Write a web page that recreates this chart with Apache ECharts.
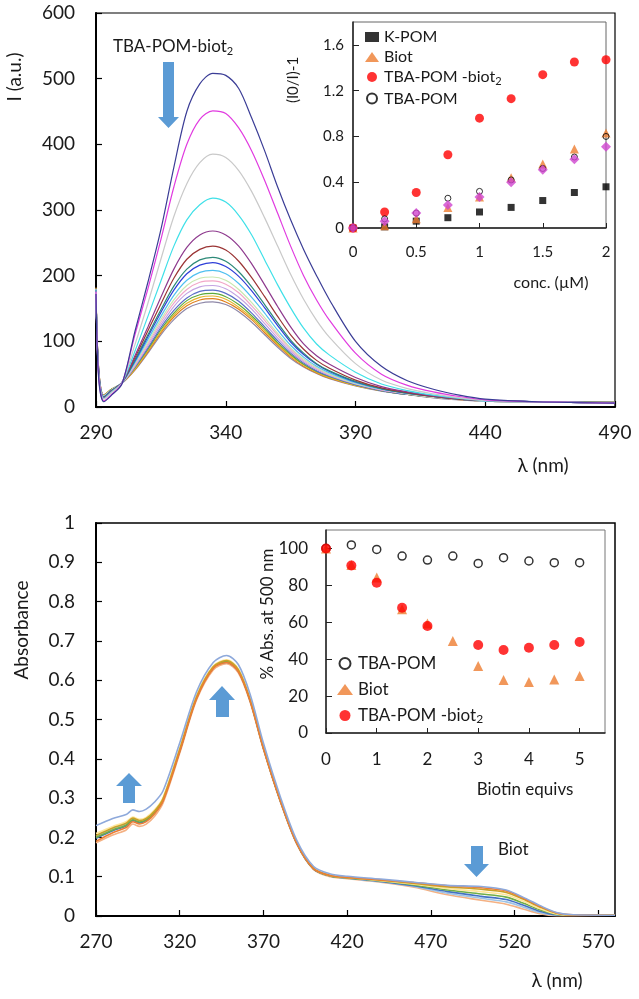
<!DOCTYPE html>
<html>
<head>
<meta charset="utf-8">
<script src="https://cdn.jsdelivr.net/npm/echarts@6/dist/echarts.min.js"></script>
<style>
  html, body { margin: 0; padding: 0; background: #fff; }
  #chart { width: 639px; height: 999px; }
</style>
</head>
<body>
<div id="chart"></div>
<script>
// top panel: fluorescence spectra (nm / a.u.)
const wlF = [290, 291, 293, 296, 300, 305, 310, 315, 320, 325, 330, 335, 340, 345, 350, 355, 360, 365, 370, 375, 380, 390, 400, 410, 420, 430, 440, 460, 490]
const fNavy = [172, 45, 8, 18, 35, 115, 190, 270, 365, 450, 492, 508, 505, 485, 440, 390, 335, 285, 240, 200, 163, 100, 62, 40, 27, 18, 12, 8, 6]
const fMagenta = [176, 48, 9, 19, 36, 110, 180, 255, 335, 400, 438, 451, 447, 425, 390, 345, 295, 245, 200, 163, 132, 82, 50, 33, 23, 16, 11, 8, 6]
const fGray = [175, 50, 12, 22, 37, 95, 158, 225, 290, 340, 372, 385, 380, 360, 328, 288, 245, 202, 164, 132, 106, 66, 41, 28, 20, 14, 10, 8, 6]
const fCyan = [178, 52, 13, 23, 37, 85, 138, 192, 245, 285, 308, 318, 312, 292, 262, 224, 186, 151, 120, 96, 79, 53, 35, 25, 18, 13, 10, 8, 6]
const fPurple = [178, 55, 14, 24, 37, 78, 122, 167, 210, 243, 262, 268, 262, 245, 218, 186, 153, 122, 96, 78, 65, 45, 31, 23, 17, 13, 10, 8, 6]
const fBrown = [178, 55, 14, 24, 37, 75, 116, 157, 196, 225, 240, 245, 239, 222, 197, 168, 138, 110, 88, 71, 59, 41, 29, 22, 16, 12, 10, 8, 6]
const fTeal = [178, 56, 15, 25, 37, 72, 110, 148, 184, 210, 224, 228, 222, 206, 183, 156, 128, 102, 82, 66, 55, 39, 28, 21, 16, 12, 10, 8, 6]
const fBlue = [178, 56, 15, 25, 37, 70, 107, 144, 178, 203, 216, 220, 214, 199, 177, 151, 124, 99, 80, 65, 54, 38, 28, 21, 16, 12, 10, 8, 6]
const fLightBlue = [179, 57, 16, 25, 37, 68, 103, 138, 170, 193, 205, 208, 203, 188, 167, 143, 117, 94, 76, 62, 52, 37, 27, 21, 16, 12, 9, 8, 6]
const fLightGreen = [179, 57, 16, 26, 37, 66, 99, 133, 163, 185, 196, 198, 193, 179, 159, 136, 112, 90, 73, 60, 50, 36, 27, 20, 15, 12, 9, 8, 6]
const fPink = [179, 58, 16, 26, 37, 64, 96, 129, 158, 179, 190, 192, 187, 174, 154, 132, 109, 88, 71, 59, 49, 36, 26, 20, 15, 12, 9, 8, 6]
const fLavender = [179, 58, 17, 26, 36, 62, 93, 125, 153, 173, 183, 185, 180, 167, 149, 127, 105, 85, 69, 57, 48, 35, 26, 20, 15, 12, 9, 8, 6]
const fSlate = [180, 58, 17, 26, 36, 61, 90, 121, 147, 166, 176, 178, 173, 161, 143, 122, 101, 82, 67, 55, 47, 34, 25, 19, 15, 12, 9, 8, 7]
const fGreen = [180, 59, 17, 27, 36, 60, 88, 118, 143, 162, 171, 173, 168, 156, 139, 119, 98, 80, 65, 54, 46, 34, 25, 19, 15, 12, 9, 8, 7]
const fGold = [181, 59, 18, 27, 36, 58, 86, 115, 140, 158, 167, 169, 164, 152, 136, 116, 96, 78, 64, 53, 45, 33, 25, 19, 15, 12, 9, 8, 7]
const fOrange = [182, 60, 18, 27, 36, 57, 84, 113, 137, 154, 163, 165, 160, 149, 133, 113, 94, 76, 62, 52, 44, 33, 25, 19, 15, 11, 9, 8, 7]
const fGrayPurple = [180, 60, 18, 27, 36, 56, 82, 110, 133, 150, 158, 160, 156, 145, 129, 110, 91, 74, 61, 51, 43, 32, 24, 19, 14, 11, 9, 8, 7]

// top inset: (I0/I)-1 vs conc
const conc = [0, 0.25, 0.5, 0.75, 1, 1.25, 1.5, 1.75, 2]
const kPom = [0, 0.01, 0.06, 0.09, 0.14, 0.18, 0.24, 0.31, 0.36]
const biotTop = [0, 0.02, 0.08, 0.18, 0.27, 0.44, 0.56, 0.69, 0.83]
const tbaBiotTop = [0, 0.14, 0.31, 0.64, 0.96, 1.13, 1.34, 1.45, 1.47]
const tbaTop = [0, 0.08, 0.13, 0.26, 0.32, 0.42, 0.52, 0.62, 0.80]
const extraTop = [0, 0.06, 0.13, 0.20, 0.27, 0.40, 0.51, 0.60, 0.71]

// bottom panel: absorbance spectra
const wlA = [270, 280, 288, 292, 296, 300, 305, 310, 320, 330, 340, 348, 355, 362, 370, 380, 390, 400, 410, 420, 440, 460, 480, 500, 515, 525, 535, 545, 555, 580]
const a1 = [0.230, 0.248, 0.258, 0.270, 0.266, 0.272, 0.290, 0.318, 0.440, 0.570, 0.645, 0.663, 0.640, 0.565, 0.440, 0.305, 0.192, 0.126, 0.107, 0.101, 0.094, 0.086, 0.078, 0.075, 0.066, 0.048, 0.027, 0.009, 0.003, 0.002]
const a2 = [0.190, 0.212, 0.225, 0.240, 0.234, 0.240, 0.260, 0.292, 0.418, 0.552, 0.630, 0.645, 0.622, 0.548, 0.426, 0.294, 0.184, 0.120, 0.103, 0.098, 0.092, 0.085, 0.077, 0.072, 0.064, 0.046, 0.025, 0.008, 0.003, 0.002]
const a3 = [0.205, 0.224, 0.236, 0.249, 0.243, 0.248, 0.267, 0.298, 0.424, 0.557, 0.634, 0.650, 0.627, 0.552, 0.429, 0.296, 0.186, 0.121, 0.103, 0.098, 0.091, 0.083, 0.074, 0.068, 0.060, 0.043, 0.023, 0.007, 0.002, 0.002]
const a4 = [0.210, 0.228, 0.240, 0.252, 0.246, 0.251, 0.270, 0.301, 0.427, 0.560, 0.636, 0.652, 0.629, 0.553, 0.430, 0.297, 0.186, 0.121, 0.103, 0.098, 0.090, 0.081, 0.070, 0.062, 0.054, 0.038, 0.019, 0.005, 0.002, 0.002]
const a5 = [0.200, 0.219, 0.231, 0.245, 0.239, 0.245, 0.264, 0.296, 0.422, 0.556, 0.632, 0.648, 0.625, 0.550, 0.428, 0.295, 0.185, 0.120, 0.102, 0.097, 0.089, 0.079, 0.066, 0.056, 0.048, 0.033, 0.016, 0.004, 0.002, 0.002]
const a6 = [0.198, 0.217, 0.229, 0.243, 0.237, 0.243, 0.262, 0.294, 0.420, 0.554, 0.631, 0.646, 0.623, 0.549, 0.427, 0.294, 0.184, 0.119, 0.102, 0.097, 0.088, 0.077, 0.062, 0.050, 0.042, 0.028, 0.012, 0.003, 0.002, 0.002]
const a7 = [0.203, 0.222, 0.234, 0.247, 0.241, 0.247, 0.266, 0.297, 0.424, 0.557, 0.634, 0.650, 0.627, 0.552, 0.429, 0.296, 0.185, 0.120, 0.102, 0.096, 0.087, 0.075, 0.058, 0.045, 0.036, 0.023, 0.009, 0.002, 0.002, 0.002]
const a8 = [0.186, 0.206, 0.219, 0.234, 0.228, 0.234, 0.254, 0.287, 0.414, 0.549, 0.626, 0.642, 0.619, 0.545, 0.424, 0.292, 0.182, 0.118, 0.100, 0.095, 0.086, 0.073, 0.054, 0.040, 0.030, 0.018, 0.006, 0.001, 0.001, 0.002]

// bottom inset: % Abs. at 500 nm vs biotin equivs
const equivs = [0, 0.5, 1, 1.5, 2, 2.5, 3, 3.5, 4, 4.5, 5]
const tbaBot = [100, 101.9, 99.5, 95.9, 93.7, 95.9, 91.9, 95.0, 93.2, 92.3, 92.3]
const biotBot = [100, 91, 84.2, 67, 59.4, 49.8, 36.3, 28.7, 27.6, 29, 30.9]
const tbaBiotBot = [100, 90.8, 81.4, 67.9, 58, null, 47.7, 45, 46.2, 47.7, 49.3]

const FONT = 'Lato'
const BLUE_ARROW = '#5B9BD5'

function pts(xs, ys) {
    return xs.map((x, i) => [x, ys[i]]).filter(p => p[1] !== null)
}

const fluorLines = [
    [fGrayPurple, '#8F88A8'], [fOrange, '#E0801E'], [fGold, '#E5B52C'], [fGreen, '#5DAA3A'],
    [fSlate, '#5A6FC8'], [fLavender, '#C3A3E3'], [fPink, '#F2A7C8'], [fLightGreen, '#C8E8B0'],
    [fLightBlue, '#4FC0F0'], [fBlue, '#2F3FD8'], [fTeal, '#2E8A78'], [fBrown, '#9B3535'],
    [fPurple, '#8E3A8E'], [fCyan, '#3FE0E8'], [fGray, '#C9C9C9'], [fMagenta, '#E13BE0'], [fNavy, '#3B3D96']
]
const absLines = [
    [a8, '#F4B183'], [a7, '#9DC3E6'], [a6, '#4472C4'], [a5, '#70AD47'],
    [a4, '#FFE699'], [a3, '#C9A227'], [a2, '#ED7D31'], [a1, '#8EA9DB']
]

let series = []
fluorLines.forEach((l, i) => {
    series.push({
        name: 'f' + i, type: 'line', xAxisIndex: 0, yAxisIndex: 0,
        data: pts(wlF, l[0]), showSymbol: false, smooth: 0.3,
        lineStyle: { color: l[1], width: 1.2 }, silent: true
    })
})
absLines.forEach((l, i) => {
    series.push({
        name: 'a' + i, type: 'line', xAxisIndex: 2, yAxisIndex: 2,
        data: pts(wlA, l[0]), showSymbol: false, smooth: 0.3,
        lineStyle: { color: l[1], width: 1.6 }, silent: true
    })
})

// inset scatter series
series.push(
    { name: 'K-POM', type: 'scatter', xAxisIndex: 1, yAxisIndex: 1, data: pts(conc, kPom),
      symbol: 'rect', symbolSize: 7, itemStyle: { color: '#000' } },
    { name: 'Biot', type: 'scatter', xAxisIndex: 1, yAxisIndex: 1, data: pts(conc, biotTop),
      symbol: 'triangle', symbolSize: 9, itemStyle: { color: '#ED7D31' } },
    { name: 'TBA-POM -biot2', type: 'scatter', xAxisIndex: 1, yAxisIndex: 1, data: pts(conc, tbaBiotTop),
      symbol: 'circle', symbolSize: 9, itemStyle: { color: '#FF0000' } },
    { name: 'TBA-POM', type: 'scatter', xAxisIndex: 1, yAxisIndex: 1, data: pts(conc, tbaTop),
      symbol: 'circle', symbolSize: 6, itemStyle: { color: 'rgba(255,255,255,0)', borderColor: '#000', borderWidth: 1 } },
    { name: 'extra', type: 'scatter', xAxisIndex: 1, yAxisIndex: 1, data: pts(conc, extraTop),
      symbol: 'diamond', symbolSize: 10, itemStyle: { color: '#D045D0' } },

    { name: 'TBA-POM', type: 'scatter', xAxisIndex: 3, yAxisIndex: 3, data: pts(equivs, tbaBot),
      symbol: 'circle', symbolSize: 8, itemStyle: { color: 'rgba(255,255,255,0)', borderColor: '#000', borderWidth: 1.5 } },
    { name: 'Biot', type: 'scatter', xAxisIndex: 3, yAxisIndex: 3, data: pts(equivs, biotBot),
      symbol: 'triangle', symbolSize: 10, itemStyle: { color: '#ED7D31' } },
    { name: 'TBA-POM -biot2', type: 'scatter', xAxisIndex: 3, yAxisIndex: 3, data: pts(equivs, tbaBiotBot),
      symbol: 'circle', symbolSize: 10, itemStyle: { color: '#FF0000' } }
)

function mainX(idx, min, max) {
    return {
        type: 'value', gridIndex: idx, min: min, max: max, interval: 50,
        axisLine: { lineStyle: { color: '#000', width: 2 } },
        axisTick: { inside: true, length: 6, lineStyle: { color: '#000', width: 1.2 } },
        axisLabel: { fontFamily: FONT, fontSize: 19, color: '#1a1a1a', margin: 16, showMaxLabel: max % 50 === min % 50 },
        splitLine: { show: false }
    }
}
function mainY(idx, max, interval) {
    return {
        type: 'value', gridIndex: idx, min: 0, max: max, interval: interval,
        axisLine: { show: true, lineStyle: { color: '#000', width: 2 } },
        axisTick: { show: true, inside: true, length: 6, lineStyle: { color: '#000', width: 1.2 } },
        axisLabel: { fontFamily: FONT, fontSize: 19, color: '#1a1a1a', margin: 21 },
        splitLine: { show: false }
    }
}
function insetAxis(idx, min, max, interval, fontSize, margin, isY, showMax) {
    return {
        type: 'value', gridIndex: idx, min: min, max: max, interval: interval,
        axisLine: { show: true, onZero: false, lineStyle: { color: '#222', width: 1.5 } },
        axisTick: { show: true, inside: true, length: isY ? 6 : 5, lineStyle: { color: '#222' } },
        axisLabel: { fontFamily: FONT, fontSize: fontSize, color: '#1a1a1a', margin: margin, showMaxLabel: !!showMax },
        splitLine: { show: false }
    }
}

function rotText(x, y, text, size) {
    return { type: 'text', x: x, y: y, rotation: Math.PI / 2, z: 10,
        style: { text: text, fontFamily: FONT, fontSize: size, fill: '#1a1a1a', align: 'center', verticalAlign: 'middle' } }
}
function plainText(x, y, text, size, align) {
    return { type: 'text', x: x, y: y, z: 10,
        style: { text: text, fontFamily: FONT, fontSize: size, fill: '#1a1a1a', align: align || 'center', verticalAlign: 'middle',
            rich: { s: { fontFamily: FONT, fontSize: 11, fill: '#1a1a1a', padding: [9, 0, 0, 0] }, n: { fontFamily: FONT, fontSize: size, fill: '#1a1a1a' } } } }
}
function arrow(points) {
    return { type: 'polygon', z: 10, shape: { points: points }, style: { fill: BLUE_ARROW } }
}

function legendFmt(name) {
    if (name === 'TBA-POM -biot2') return '{n|TBA-POM -biot}{s|2}'
    return '{n|' + name + '}'
}

let myChart = echarts.init(document.getElementById('chart'), null, { renderer: 'canvas' })

let option = {
    animation: false,
    backgroundColor: '#fff',
    grid: [
        { left: 96, top: 13, width: 519, height: 394, show: true, borderColor: '#000', borderWidth: 1.2, backgroundColor: 'transparent' },
        { left: 353, top: 22, width: 253, height: 206, show: true, borderColor: '#666', borderWidth: 1, backgroundColor: '#fff' },
        { left: 96, top: 523, width: 519, height: 393, show: true, borderColor: '#000', borderWidth: 1.5, backgroundColor: 'transparent' },
        { left: 326, top: 530, width: 279, height: 203, show: true, borderColor: '#777', borderWidth: 1, backgroundColor: '#fff' }
    ],
    xAxis: [
        mainX(0, 290, 490),
        insetAxis(1, 0, 2, 0.5, 15, 17, false, true),
        mainX(2, 270, 580),
        insetAxis(3, 0, 5.5, 1, 17, 18, false, false)
    ],
    yAxis: [
        mainY(0, 600, 100),
        insetAxis(1, 0, 1.8, 0.4, 15, 9, true, false),
        mainY(2, 1, 0.1),
        insetAxis(3, 0, 110, 20, 17, 18, true, false)
    ],
    legend: [
        {
            data: ['K-POM', 'Biot', 'TBA-POM -biot2', 'TBA-POM'],
            orient: 'vertical', left: 360, top: 24, itemGap: 4, itemWidth: 14, itemHeight: 10,
            formatter: legendFmt, selectedMode: false,
            textStyle: { fontFamily: FONT, fontSize: 16, color: '#1a1a1a',
                rich: { n: { fontFamily: FONT, fontSize: 16, color: '#1a1a1a' }, s: { fontFamily: FONT, fontSize: 11, color: '#1a1a1a', padding: [8, 0, 0, 0] } } }
        },
        {
            data: ['TBA-POM', 'Biot', 'TBA-POM -biot2'],
            orient: 'vertical', left: 332, top: 650, itemGap: 9, itemWidth: 16, itemHeight: 11,
            formatter: legendFmt, selectedMode: false,
            textStyle: { fontFamily: FONT, fontSize: 17, color: '#1a1a1a',
                rich: { n: { fontFamily: FONT, fontSize: 17, color: '#1a1a1a' }, s: { fontFamily: FONT, fontSize: 12, color: '#1a1a1a', padding: [8, 0, 0, 0] } } }
        }
    ],
    graphic: [
        rotText(15, 77, 'I (a.u.)', 19),
        plainText(543, 466, 'λ (nm)', 19),
        rotText(293, 80, '(I0/I)-1', 15),
        plainText(551, 283, 'conc. (µM)', 16),
        plainText(113, 47, '{n|TBA-POM-biot}{s|2}', 17, 'left'),
        arrow([[163, 62], [174, 62], [174, 117], [179, 117], [168.5, 128], [158, 117], [163, 117]]),

        rotText(22, 630, 'Absorbance', 19),
        plainText(557, 981, 'λ (nm)', 19),
        rotText(268, 614, '% Abs. at 500 nm', 17),
        plainText(525, 790, 'Biotin equivs', 17),
        plainText(498, 850, 'Biot', 17, 'left'),
        arrow([[123, 803], [135, 803], [135, 786], [142, 786], [129, 773], [116, 786], [123, 786]]),
        arrow([[216, 717], [229, 717], [229, 700], [235, 700], [222, 686], [209, 700], [216, 700]]),
        arrow([[471, 846], [483, 846], [483, 864], [489, 864], [476.5, 877], [464, 864], [471, 864]])
    ],
    series: series
}

myChart.setOption(option)
</script>
</body>
</html>
